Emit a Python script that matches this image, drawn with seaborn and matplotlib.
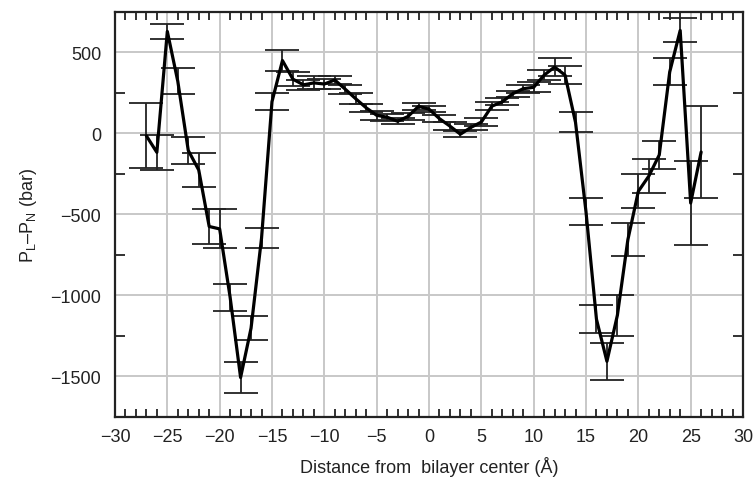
import numpy as np
import pandas as pd
import matplotlib
matplotlib.use("Agg")
import matplotlib.pyplot as plt
from matplotlib.ticker import FixedLocator, MultipleLocator
import seaborn as sns

# Lateral pressure profile across the bilayer
distance = list(range(-27, 27))
pressure = [-15, -117, 630, 322, -105, -226, -575, -590, -1012, -1508,
            -1203, -648, 196, 450, 335, 300, 312, 305, 330, 273,
            214, 158, 112, 100, 75, 105, 167, 150, 91, 45,
            -5, 37, 70, 168, 195, 245, 276, 285, 360, 410,
            360, 68, -484, -1148, -1408, -1123, -657, -358, -264, -133,
            380, 636, -430, -115]
error = [200, 108, 45, 79, 85, 103, 106, 120, 83, 93,
         73, 62, 52, 65, 45, 30, 40, 30, 26, 27,
         33, 23, 28, 22, 18, 20, 20, 20, 23, 23,
         20, 19, 26, 23, 21, 18, 24, 30, 31, 55,
         56, 62, 83, 85, 113, 127, 103, 105, 105, 87,
         83, 74, 260, 286]

x_ticks = [-30, -25, -20, -15, -10, -5, 0, 5, 10, 15, 20, 25, 30]
y_ticks = [-1500, -1000, -500, 0, 500]

df = pd.DataFrame({"z": distance, "p": pressure, "err": error})

sns.set_theme(style="white")
plt.rcParams["font.family"] = ["Liberation Sans", "DejaVu Sans"]
plt.rcParams["mathtext.fontset"] = "custom"
plt.rcParams["mathtext.rm"] = "Liberation Sans"

fig = plt.figure(figsize=(7.55, 4.81), dpi=100)
ax = fig.add_axes([0.1523, 0.1316, 0.8318, 0.8414])

ax.errorbar(df["z"], df["p"], yerr=df["err"], fmt="none", ecolor="#222222",
            elinewidth=1.3, capsize=12, capthick=1.3, zorder=2)
sns.lineplot(data=df, x="z", y="p", ax=ax, color="black", linewidth=2.3,
             zorder=3, legend=False)

ax.set_xlim(-30, 30)
ax.set_ylim(-1750, 750)
ax.xaxis.set_major_locator(FixedLocator(x_ticks))
ax.yaxis.set_major_locator(FixedLocator(y_ticks))
ax.set_xticklabels([f"{t}".replace("-", "\u2212") for t in x_ticks])
ax.set_yticklabels([f"{t}".replace("-", "\u2212") for t in y_ticks])
ax.xaxis.set_minor_locator(FixedLocator([v for v in range(-29, 30) if v % 5 != 0]))
ax.yaxis.set_minor_locator(FixedLocator([-1250, -750, -250, 250]))

ax.grid(True, which="major", color="#c8c8c8", linewidth=1.4)
ax.set_axisbelow(True)

ax.tick_params(which="major", length=0, labelsize=13, colors="#222222")
ax.tick_params(axis="x", which="major", pad=8)
ax.tick_params(axis="y", which="major", pad=10)
ax.tick_params(which="minor", direction="in", width=1.3, color="#222222",
               top=True, bottom=True, left=True, right=True)
ax.tick_params(axis="x", which="minor", length=6)
ax.tick_params(axis="y", which="minor", length=7)

for side in ["top", "bottom", "left", "right"]:
    ax.spines[side].set_visible(True)
    ax.spines[side].set_color("#222222")
    ax.spines[side].set_linewidth(1.6)

ax.set_xlabel("Distance from  bilayer center (\u00c5)", fontsize=13, labelpad=8,
              color="#222222")
ax.set_ylabel(r"P$_\mathregular{L}$\u2013P$_\mathregular{N}$ (bar)".replace("\\u2013", "\u2013"),
              fontsize=13, labelpad=8, color="#222222")

fig.savefig("out.png", dpi=100)
